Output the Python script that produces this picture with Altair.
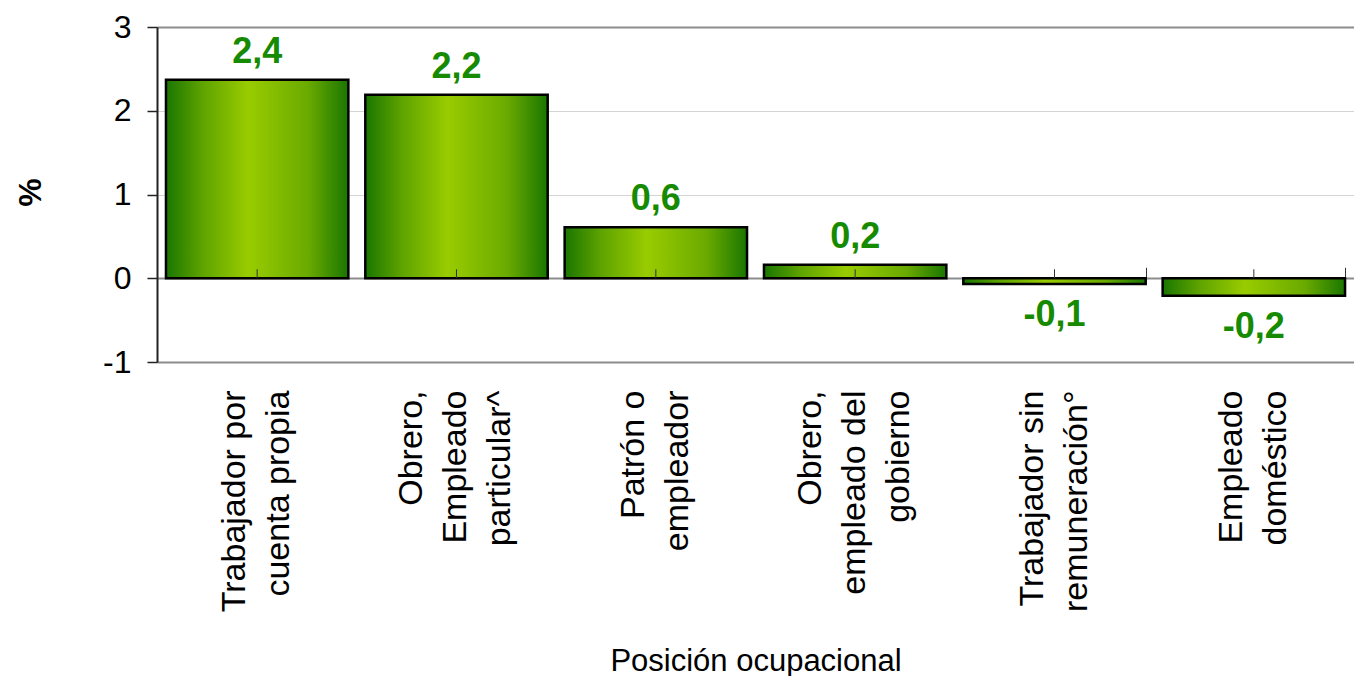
import altair as alt
import pandas as pd

categories = [
    "Trabajador por\ncuenta propia",
    "Obrero,\nEmpleado\nparticular^",
    "Patrón o\nempleador",
    "Obrero,\nempleado del\ngobierno",
    "Trabajador sin\nremuneración°",
    "Empleado\ndoméstico",
]
values = [2.37, 2.19, 0.61, 0.16, -0.07, -0.21]
y_ticks = [-1, 0, 1, 2, 3]

x_title = "Posición ocupacional"
y_title = "%"

FONT = "Liberation Sans"
GREEN_TXT = "#168a00"
LINE_H = 44

df = pd.DataFrame({"cat": categories, "value": values})

gradient = alt.LinearGradient(
    gradient="linear",
    stops=[
        alt.GradientStop(color="#1a7600", offset=0),
        alt.GradientStop(color="#5ea300", offset=0.2),
        alt.GradientStop(color="#99cc00", offset=0.45),
        alt.GradientStop(color="#6aaa00", offset=0.78),
        alt.GradientStop(color="#1a7600", offset=1),
    ],
    x1=0, x2=1, y1=0, y2=0,
)

x_scale = alt.Scale(paddingInner=0.085, paddingOuter=0.045)
y_scale = alt.Scale(domain=[-1, 3], nice=False, zero=False)

y_axis = alt.Axis(
    values=y_ticks,
    labelExpr="datum.value < 0 ? '-' + format(abs(datum.value), 'd') : format(datum.value, 'd')",
    title=y_title,
    titleFont=FONT,
    titleFontSize=32,
    titleFontWeight="bold",
    titleColor="black",
    titleX=-127,
    titleY=165,
    titleAlign="center",
    titleBaseline="middle",
    labelFont=FONT,
    labelFontSize=32,
    labelColor="black",
    labelPadding=16,
    tickSize=10,
    tickColor="#222",
    tickWidth=1.5,
    domainColor="#222",
    domainWidth=2,
    grid=True,
    gridColor={
        "condition": {"test": "datum.value == 1 || datum.value == 2", "value": "#d4d4d4"},
        "value": "#8c8c8c",
    },
    gridWidth={
        "condition": {"test": "datum.value == 1 || datum.value == 2", "value": 1.2},
        "value": 2,
    },
)

base = alt.Chart(df)

three_lines = "length(split(datum.value, '\\n')) == 3"

bars = base.mark_bar(fill=gradient, stroke="black", strokeWidth=2.5).encode(
    x=alt.X(
        "cat:N",
        sort=None,
        scale=x_scale,
        axis=alt.Axis(
            orient="bottom",
            title=x_title,
            titleFont=FONT,
            titleFontSize=31,
            titleFontWeight="normal",
            titleColor="black",
            titleY=308,
            titleBaseline="alphabetic",
            labelAngle=-90,
            labelFont=FONT,
            labelFontSize=34,
            labelColor="black",
            labelLineHeight=LINE_H,
            labelPadding=28,
            labelLimit=0,
            labelExpr="split(datum.label, '\\n')",
            labelOffset={
                "condition": {"test": three_lines, "value": -LINE_H},
                "value": -LINE_H / 2,
            },
            ticks=False,
            tickSize=0,
            domain=False,
            grid=False,
        ),
    ),
    y=alt.Y("value:Q", scale=y_scale, axis=y_axis),
)

center_ticks = base.mark_rule(color="#333", strokeWidth=1, y2Offset=-9).encode(
    x=alt.X(
        "cat:N",
        sort=None,
        scale=x_scale,
        axis=alt.Axis(
            orient="top",
            offset=-251.25,
            labels=False,
            domain=False,
            ticks=True,
            tickBand="extent",
            tickSize=11,
            tickColor="#333",
            tickWidth=1,
            title=None,
            grid=False,
        ),
    ),
    y=alt.Y(datum=0, scale=y_scale, axis=y_axis),
    y2=alt.datum(0),
)

label_calc = "(datum.value < 0 ? '-' : '') + replace(format(abs(datum.value), '.1f'), '.', ',')"

pos_text = base.transform_filter("datum.value >= 0").transform_calculate(
    label=label_calc
).mark_text(
    font=FONT, fontSize=36, fontWeight="bold", color=GREEN_TXT,
    baseline="alphabetic", dy=-17,
).encode(
    x=alt.X("cat:N", sort=None, scale=x_scale, axis=None),
    y=alt.Y("value:Q", scale=y_scale, axis=y_axis),
    text="label:N",
)

neg_text = base.transform_filter("datum.value < 0").transform_calculate(
    label=label_calc
).mark_text(
    font=FONT, fontSize=36, fontWeight="bold", color=GREEN_TXT,
    baseline="top", dy=14,
).encode(
    x=alt.X("cat:N", sort=None, scale=x_scale, axis=None),
    y=alt.Y("value:Q", scale=y_scale, axis=y_axis),
    text="label:N",
)

chart = alt.layer(bars, center_ticks, pos_text, neg_text).resolve_axis(
    x="independent", y="shared"
).properties(
    width=1197,
    height=335,
    padding={"left": 149, "top": 19, "right": 0, "bottom": 314},
    autosize=alt.AutoSizeParams(type="none"),
).configure_view(stroke=None)

chart.save("out.html", embed_options={"renderer": "svg", "actions": False})
